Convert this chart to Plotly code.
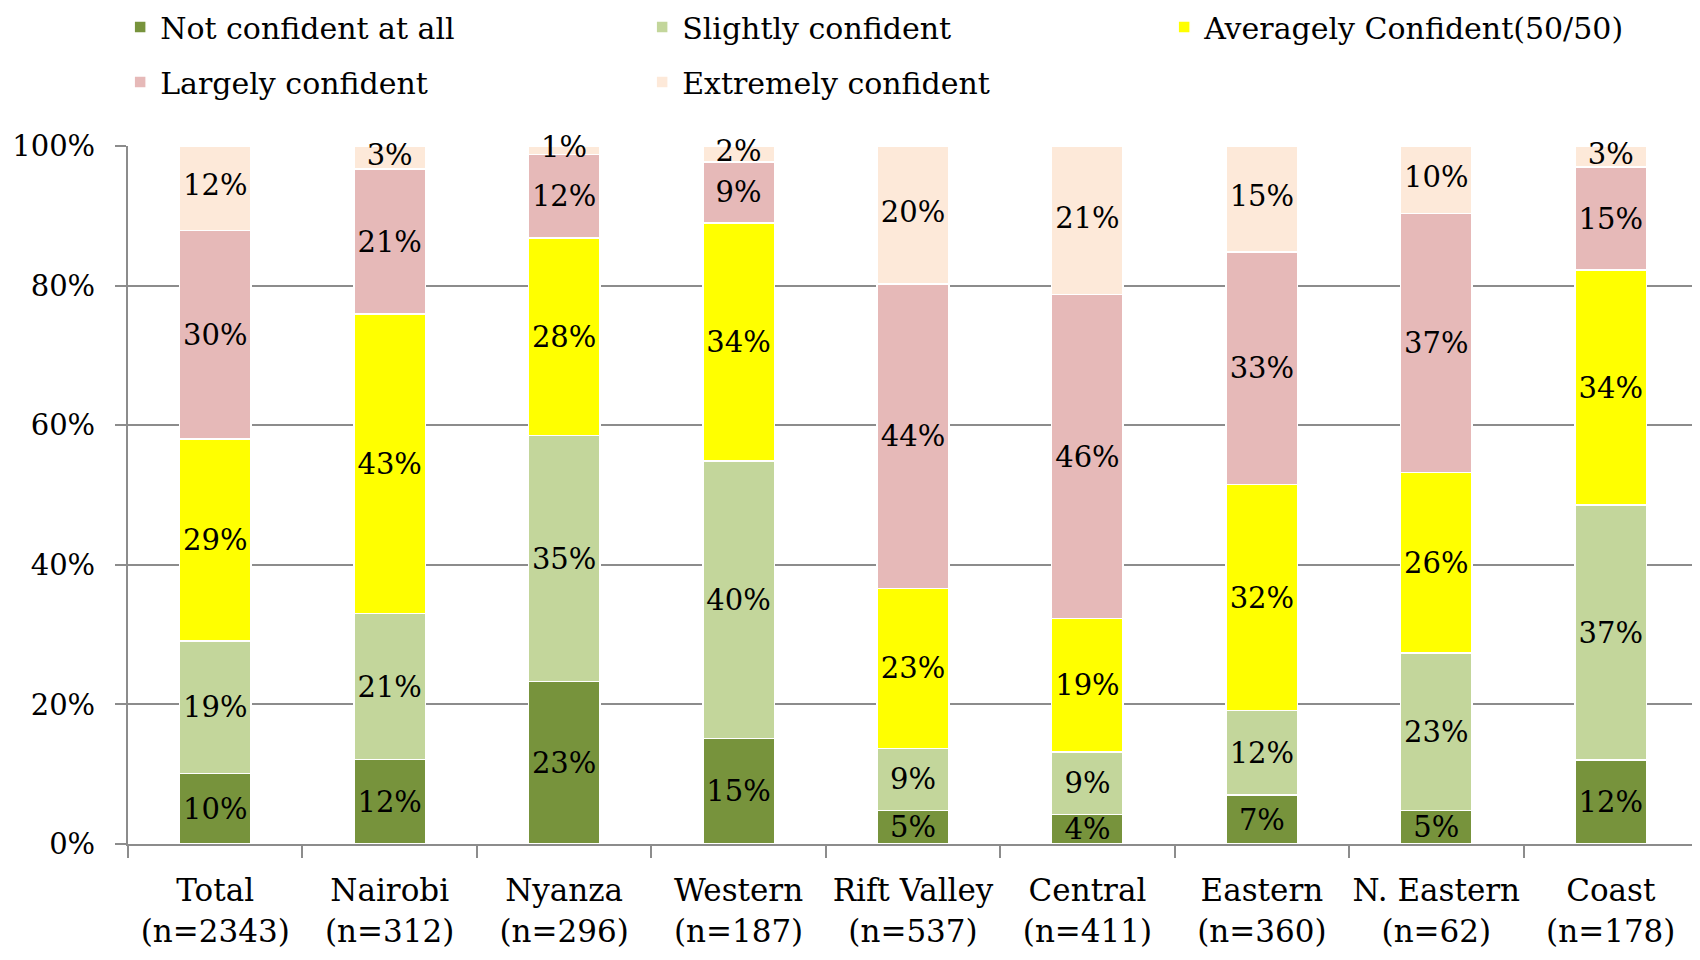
import plotly.graph_objects as go

categories = ["Total<br>(n=2343)", "Nairobi<br>(n=312)", "Nyanza<br>(n=296)", "Western<br>(n=187)",
              "Rift Valley<br>(n=537)", "Central<br>(n=411)", "Eastern<br>(n=360)",
              "N. Eastern<br>(n=62)", "Coast<br>(n=178)"]

not_confident = [10.1, 12.1, 23.3, 15.1, 4.8, 4.2, 7.0, 4.8, 12.0]
slightly_confident = [19.0, 20.9, 35.2, 39.8, 8.9, 9.0, 12.1, 22.6, 36.6]
averagely_confident = [28.9, 42.9, 28.3, 34.1, 22.9, 19.1, 32.4, 25.8, 33.6]
largely_confident = [29.9, 20.8, 12.0, 8.7, 43.6, 46.4, 33.3, 37.1, 14.8]
extremely_confident = [12.1, 3.3, 1.2, 2.3, 19.8, 21.3, 15.2, 9.7, 3.0]

series = [
    ("Not confident at all", not_confident, "#77933C", "legend"),
    ("Slightly confident", slightly_confident, "#C3D69B", "legend"),
    ("Averagely Confident(50/50)", averagely_confident, "#FFFF00", "legend"),
    ("Largely confident", largely_confident, "#E6B9B8", "legend2"),
    ("Extremely confident", extremely_confident, "#FDE9D9", "legend2"),
]

FONT = "DejaVu Serif"
LABEL_FONT = dict(family=FONT, size=29, color="black")

fig = go.Figure()
base = [0.0] * len(categories)
for i, (name, vals, color, leg) in enumerate(series):
    is_top = i == len(series) - 1
    fig.add_trace(go.Bar(
        name=name, x=categories, y=vals,
        marker=dict(color=color, line=dict(color="white", width=1.5)),
        text=None if is_top else [f"{v:.0f}%" for v in vals],
        textposition="inside", insidetextanchor="middle", textangle=0,
        constraintext="none",
        textfont=LABEL_FONT,
        legend=leg,
    ))
    if is_top:
        # top-segment labels drawn unclipped so small slices can overflow the plot top
        fig.add_trace(go.Scatter(
            x=categories, y=[b + v / 2 for b, v in zip(base, vals)],
            mode="text", text=[f"{v:.0f}%" for v in vals],
            textposition="middle center", textfont=LABEL_FONT,
            cliponaxis=False, showlegend=False, hoverinfo="skip",
        ))
    base = [b + v for b, v in zip(base, vals)]

W, H = 1692, 952
mt, mb = 138, 116
plot_h = H - mt - mb
leg_common = dict(orientation="h", x=-0.005, xanchor="left", yanchor="middle",
                  entrywidth=477, entrywidthmode="pixels", font=dict(family=FONT, size=30),
                  bgcolor="rgba(0,0,0,0)", traceorder="normal")
fig.update_layout(
    width=W, height=H,
    barmode="stack", bargap=0.59,
    plot_bgcolor="white", paper_bgcolor="white",
    margin=dict(l=120, r=2, t=mt, b=mb, autoexpand=False),
    font=dict(family=FONT, size=30, color="black"),
    legend=dict(leg_common, y=1 + 119 / plot_h),
    legend2=dict(leg_common, y=1 + 64 / plot_h),
    xaxis=dict(showline=True, linecolor="#8c8c8c", linewidth=2, ticks="outside", tickson="boundaries",
               ticklen=12, tickcolor="#8c8c8c", tickwidth=2, showgrid=False, tickangle=0,
               tickfont=dict(family=FONT, size=31), ticklabelstandoff=18, automargin=False,
               range=[-0.5, 8.5]),
    yaxis=dict(range=[0, 100], dtick=20, ticksuffix="%", showline=True, linecolor="#8c8c8c", linewidth=2,
               ticks="outside", ticklen=11, tickcolor="#8c8c8c", tickwidth=2, automargin=False,
               showgrid=True, gridcolor="#8c8c8c", gridwidth=2, zeroline=False,
               tickfont=dict(family=FONT, size=29), ticklabelstandoff=14),
)

fig.write_html("out.html")
